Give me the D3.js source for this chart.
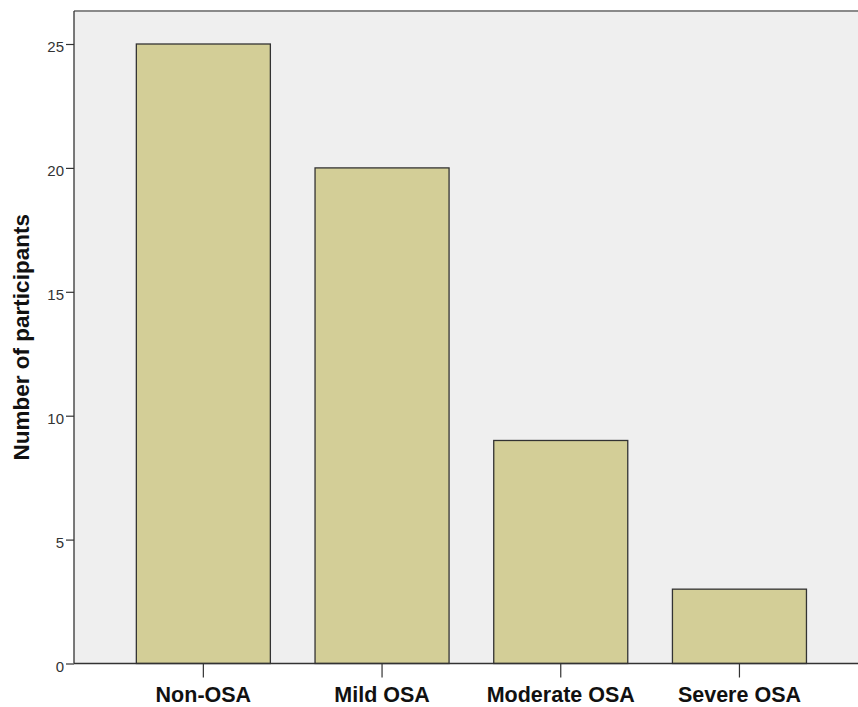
<!DOCTYPE html>
<html><head><meta charset="utf-8">
<script src="https://cdn.jsdelivr.net/npm/d3@7"></script>
<style>body{margin:0;background:#fff}</style>
</head><body>
<script>
const categories = ["Non-OSA", "Mild OSA", "Moderate OSA", "Severe OSA"];
const values = [25, 20, 9, 3];
const yTicks = [0, 5, 10, 15, 20, 25];
const yTitle = "Number of participants";

const W = 858, H = 707;
const svg = d3.select("body").append("svg").attr("width", W).attr("height", H);

const plotLeft = 74, plotTop = 11, plotBottom = 663.5, plotRight = 860;
const y = d3.scaleLinear().domain([0, 25]).range([plotBottom, 44]);
const x = d3.scaleBand().domain(categories).range([114, 828.8]).paddingInner(0.25).paddingOuter(0.125);

svg.append("rect").attr("x", plotLeft).attr("y", plotTop).attr("width", plotRight - plotLeft).attr("height", plotBottom - plotTop).attr("fill", "#efefef");
svg.append("line").attr("x1", plotLeft).attr("x2", plotRight).attr("y1", plotTop).attr("y2", plotTop).attr("stroke", "#8a8a8a").attr("stroke-width", 2);

svg.selectAll("rect.bar").data(values).enter().append("rect").attr("class", "bar")
  .attr("x", (d, i) => x(categories[i]))
  .attr("y", d => y(d))
  .attr("width", x.bandwidth())
  .attr("height", d => plotBottom - y(d))
  .attr("fill", "#d3ce97").attr("stroke", "#333").attr("stroke-width", 1.3);

// y axis
const ya = svg.append("g").attr("transform", `translate(${plotLeft},0)`)
  .call(d3.axisLeft(y).tickValues(yTicks).tickSize(8).tickPadding(2).tickSizeOuter(0));
ya.select(".domain").remove();
ya.selectAll(".tick line").attr("stroke", "#333").attr("stroke-width", 1.2);
ya.selectAll(".tick text").attr("font-family", "Liberation Sans, Arial, sans-serif").attr("font-size", 15).attr("dy", "0.5em").attr("fill", "#333");
svg.append("line").attr("x1", plotLeft).attr("x2", plotLeft).attr("y1", plotTop).attr("y2", plotBottom).attr("stroke", "#333").attr("stroke-width", 1.3);

// x axis
const xa = svg.append("g").attr("transform", `translate(0,${plotBottom})`)
  .call(d3.axisBottom(x).tickSize(14).tickPadding(6).tickSizeOuter(0));
xa.select(".domain").remove();
xa.selectAll(".tick line").attr("stroke", "#333").attr("stroke-width", 1.2).attr("y1", 0).attr("y2", 14);
xa.selectAll(".tick text").attr("y", 38.5).attr("dy", 0)
  .attr("font-family", "Liberation Sans, Arial, sans-serif").attr("font-size", 21.5).attr("font-weight", "bold").attr("fill", "#111");
svg.append("line").attr("x1", plotLeft).attr("x2", plotRight).attr("y1", plotBottom).attr("y2", plotBottom).attr("stroke", "#333").attr("stroke-width", 1.3);

svg.append("text").attr("transform", `translate(29,${(plotTop + plotBottom) / 2}) rotate(-90)`)
  .attr("text-anchor", "middle").attr("font-family", "Liberation Sans, Arial, sans-serif")
  .attr("font-size", 22.5).attr("font-weight", "bold").attr("fill", "#111").text(yTitle);
</script>
</body></html>
